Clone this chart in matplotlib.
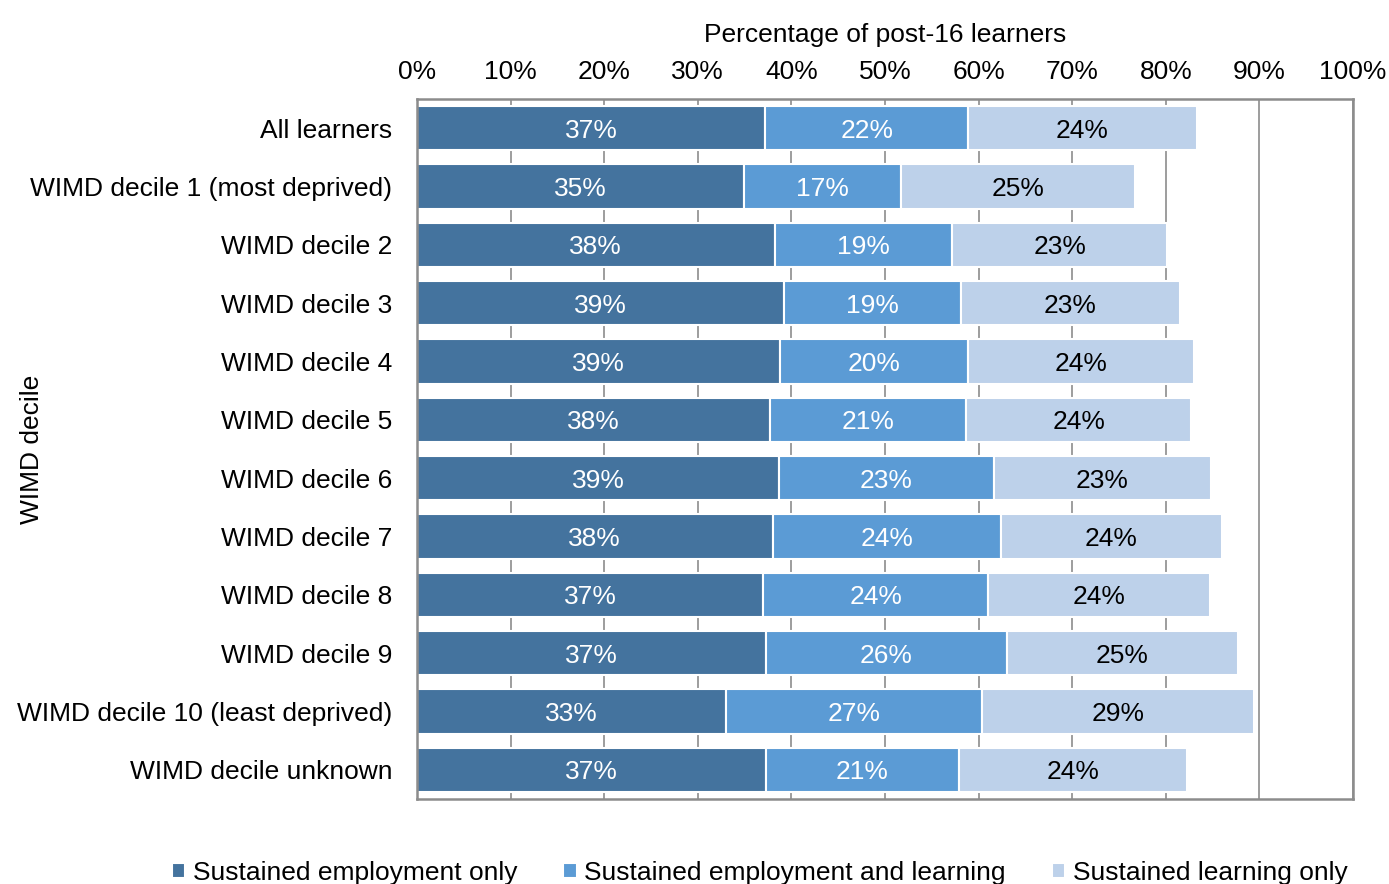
import numpy as np
import matplotlib.pyplot as plt

plt.rcParams['font.family'] = ['Liberation Sans', 'DejaVu Sans']

# Share of post-16 learners by destination, per WIMD decile
groups = ["All learners", "WIMD decile 1 (most deprived)", "WIMD decile 2",
          "WIMD decile 3", "WIMD decile 4", "WIMD decile 5", "WIMD decile 6",
          "WIMD decile 7", "WIMD decile 8", "WIMD decile 9",
          "WIMD decile 10 (least deprived)", "WIMD decile unknown"]
employment_only = [37.2, 34.9, 38.2, 39.2, 38.8, 37.7, 38.7, 38.0, 37.0, 37.3, 33.0, 37.3]
employment_and_learning = [21.7, 16.8, 19.0, 18.9, 20.1, 21.0, 22.9, 24.4, 24.0, 25.7, 27.4, 20.6]
learning_only = [24.4, 25.0, 22.9, 23.4, 24.1, 24.0, 23.2, 23.6, 23.7, 24.7, 29.0, 24.4]

series = [
    ("Sustained employment only", employment_only, "#44739e", "white"),
    ("Sustained employment and learning", employment_and_learning, "#5b9bd5", "white"),
    ("Sustained learning only", learning_only, "#bdd1ea", "black"),
]

FS = 19

fig = plt.figure(figsize=(13.89, 8.84), dpi=100)
ax = fig.add_axes([417 / 1389, 1 - 799 / 884, (1353 - 417) / 1389, (799 - 99) / 884])

y = np.arange(len(groups))
left = np.zeros(len(groups))
for name, vals, color, txt in series:
    vals = np.array(vals)
    ax.barh(y, vals, left=left, height=0.76, color=color, edgecolor="white",
            linewidth=1.5, label=name, zorder=2)
    for yi, l, v in zip(y, left, vals):
        ax.text(l + v / 2, yi, f"{v:.0f}%", ha="center", va="center_baseline",
                color=txt, fontsize=FS, zorder=3)
    left += vals

ax.set_xlim(0, 100)
ax.set_ylim(len(groups) - 0.5, -0.5)
ax.set_yticks(y)
ax.set_yticklabels(groups, fontsize=FS)
ax.set_xticks(np.arange(0, 101, 10))
ax.set_xticklabels([f"{t}%" for t in range(0, 101, 10)], fontsize=FS)
ax.xaxis.tick_top()
ax.xaxis.set_label_position("top")
ax.tick_params(length=0)
ax.tick_params(axis="x", pad=11)
ax.tick_params(axis="y", pad=18)
ax.set_xlabel("Percentage of post-16 learners", fontsize=FS, labelpad=13)
ax.set_ylabel("WIMD decile", fontsize=FS)
ax.yaxis.set_label_coords(-0.398, 0.5)
ax.grid(axis="x", color="#8c8c8c", linewidth=1.2, zorder=0)
for s in ax.spines.values():
    s.set_color("#8c8c8c")
    s.set_linewidth(1.8)

fig.legend(loc="center", bbox_to_anchor=(0.547, 1 - 873 / 884), ncol=3, frameon=False,
           fontsize=FS, handlelength=0.5, handleheight=0.5, handletextpad=0.3,
           columnspacing=1.75, borderpad=0)

fig.savefig("out.png", dpi=100)
